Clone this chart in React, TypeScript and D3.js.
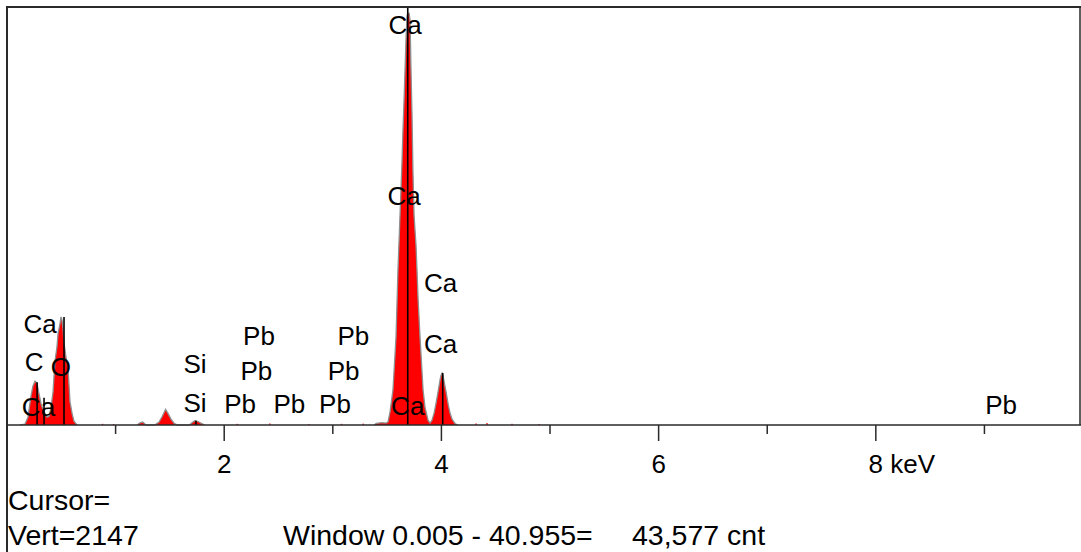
import React from "react";
import * as d3 from "d3";

// ---- Data (keV, counts) ----
const lowEnergyPeaks: [number, number][] = [
  [0.12, 0], [0.166, 5], [0.193, 40], [0.221, 150], [0.239, 200], [0.258, 225],
  [0.276, 215], [0.295, 160], [0.313, 110], [0.331, 80], [0.35, 60], [0.368, 40],
  [0.387, 45], [0.405, 90], [0.424, 170], [0.442, 330], [0.46, 400], [0.47, 470],
  [0.488, 520], [0.497, 555], [0.506, 540], [0.515, 500], [0.525, 420], [0.543, 350],
  [0.562, 290], [0.58, 120], [0.599, 60], [0.617, 20], [0.645, 0],
];
const minorPeaks: [number, number][] = [
  [1.2, 0], [1.22, 10], [1.25, 15], [1.28, 0],
  [1.36, 0], [1.4, 15], [1.43, 45], [1.46, 80], [1.48, 62], [1.51, 30], [1.54, 8], [1.57, 0],
  [1.68, 0], [1.7, 10], [1.73, 22], [1.76, 18], [1.79, 8], [1.82, 0],
];
const calciumPeaks: [number, number][] = [
  [3.38, 0], [3.4, 8], [3.45, 12], [3.49, 10], [3.508, 15], [3.527, 67], [3.554, 180],
  [3.582, 452], [3.6, 796], [3.619, 1079], [3.637, 1350], [3.646, 1515], [3.656, 1669],
  [3.665, 1823], [3.674, 1980], [3.683, 2100], [3.692, 2116], [3.702, 2116], [3.711, 2080],
  [3.72, 1823], [3.729, 1600], [3.738, 1300], [3.748, 1079], [3.757, 1000], [3.766, 924],
  [3.775, 796], [3.785, 650], [3.803, 452], [3.831, 180], [3.849, 90], [3.877, 25],
  [3.895, 10], [3.913, 25], [3.932, 60], [3.95, 110], [3.969, 170], [3.987, 230],
  [3.996, 255], [4.006, 267], [4.015, 255], [4.024, 225], [4.043, 170], [4.061, 110],
  [4.08, 60], [4.098, 30], [4.125, 8], [4.15, 0],
];
const noiseChannels: [number, number][] = [
  [0.88, 6], [0.98, 5], [2.12, 6], [2.42, 8], [2.78, 5], [3.08, 6], [3.28, 7],
  [4.32, 8], [4.42, 10], [4.65, 6], [4.9, 5],
];

// line markers (keV, counts)
const markerEnergies = [0.277, 0.341, 0.525, 1.74, 3.69, 4.012];
const markerHeights = [220, 140, 555, 22, 2147, 267];

// peak labels
const labelTexts = ["Ca", "Ca", "Ca", "Ca", "Ca", "Ca", "C", "O", "Ca", "Si", "Si",
  "Pb", "Pb", "Pb", "Pb", "Pb", "Pb", "Pb", "Pb"];
const labelEnergies = [3.665, 3.656, 3.992, 3.992, 3.69, 0.304, 0.249, 0.497, 0.29, 1.731, 1.731,
  2.32, 2.296, 2.146, 2.6, 3.02, 3.19, 3.1, 9.153];
const labelLevels = [2008, 1130, 683, 370, 51, 473, 277, 252, 46, 267, 67,
  411, 231, 62, 62, 62, 411, 231, 56];

const tickValues = [1, 2, 3, 4, 5, 6, 7, 8, 9];
const tickLabels = ["2", "4", "6", "8"];
const axisUnit = "keV";
const fullScale = 2147;
const cursorText = "Cursor=";
const vertText = "Vert=2147";
const windowText = "Window 0.005 - 40.955=";
const totalText = "43,577 cnt";

export default function App() {
  const W = 1081, H = 552;
  const x = d3.scaleLinear().domain([0, 9.88]).range([7, 1080]);
  const y = d3.scaleLinear().domain([0, fullScale]).range([425, 7]);
  const area = d3.area<[number, number]>()
    .x((d) => x(d[0]))
    .y0(y(0))
    .y1((d) => y(d[1]));
  const line = d3.line<[number, number]>().x((d) => x(d[0])).y((d) => y(d[1]));
  const groups = [lowEnergyPeaks, minorPeaks, calciumPeaks];
  const font = "'Liberation Sans', Arial, sans-serif";
  const bw = x(0.012) - x(0);

  return (
    <svg width={W} height={H} style={{ position: "fixed", left: 0, top: 0, background: "#fff" }}
      fontFamily={font}>
      <rect x={0} y={0} width={W} height={H} fill="#fff" />
      {groups.map((g, i) => (
        <g key={i}>
          <path d={area(g) || ""} fill="#ff0000" />
          <path d={line(g) || ""} fill="none" stroke="#8f8f8f" strokeWidth={1.3} />
        </g>
      ))}
      {noiseChannels.map((d, i) => (
        <rect key={i} x={x(d[0]) - bw / 2} width={bw} y={y(d[1])} height={y(0) - y(d[1])} fill="#ff0000" />
      ))}
      {markerEnergies.map((e, i) => (
        <line key={i} x1={x(e)} x2={x(e)} y1={y(0)} y2={y(markerHeights[i])} stroke="#000" strokeWidth={1.6} />
      ))}
      {/* frame */}
      <line x1={7} x2={W} y1={7} y2={7} stroke="#2a2a2a" strokeWidth={2} />
      <line x1={7} x2={7} y1={6} y2={H} stroke="#2a2a2a" strokeWidth={2} />
      <line x1={1080} x2={1080} y1={6} y2={y(0)} stroke="#2a2a2a" strokeWidth={1.5} />
      <line x1={7} x2={W} y1={y(0)} y2={y(0)} stroke="#2a2a2a" strokeWidth={1.6} />
      {tickValues.map((t) => (
        <line key={t} x1={x(t)} x2={x(t)} y1={y(0)} y2={y(0) + (t % 2 === 0 ? 16 : 9)} stroke="#2a2a2a" strokeWidth={1.5} />
      ))}
      {tickLabels.map((l, i) => (
        <text key={l} x={x(+l)} y={473} textAnchor="middle" fontSize={26} fill="#000">{l}</text>
      ))}
      <text x={x(+tickLabels[tickLabels.length - 1]) + 26 * 0.556} y={473} fontSize={26} fill="#000">{axisUnit}</text>
      {labelTexts.map((t, i) => (
        <text key={i} x={x(labelEnergies[i])} y={y(labelLevels[i])} textAnchor="middle" fontSize={26} fill="#000">{t}</text>
      ))}
      <text x={8} y={510} fontSize={28.5} fill="#000">{cursorText}</text>
      <text x={8} y={545} fontSize={28.5} fill="#000">{vertText}</text>
      <text x={283} y={545} fontSize={28.5} fill="#000">{windowText}</text>
      <text x={632} y={545} fontSize={28.5} fill="#000">{totalText}</text>
    </svg>
  );
}
